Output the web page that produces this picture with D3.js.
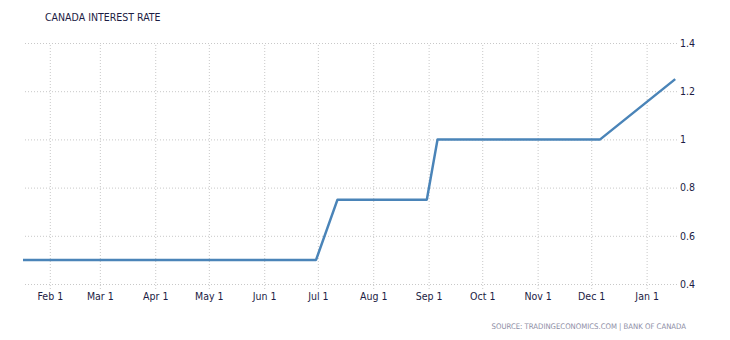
<!DOCTYPE html>
<html>
<head>
<meta charset="utf-8">
<script src="https://cdn.jsdelivr.net/npm/d3@7"></script>
<style>
  body { margin: 0; background: #fff; }
  svg text { font-family: "DejaVu Sans Condensed", "DejaVu Sans", sans-serif; }
</style>
</head>
<body>
<script>
// rate decisions (date, percent)
const dates = ["2017-01-17", "2017-06-30", "2017-07-12", "2017-08-31", "2017-09-06", "2017-12-06", "2018-01-17"];
const rates = [0.5, 0.5, 0.75, 0.75, 1.0, 1.0, 1.25];
const monthTicks = ["2017-02-01", "2017-03-01", "2017-04-01", "2017-05-01", "2017-06-01", "2017-07-01",
  "2017-08-01", "2017-09-01", "2017-10-01", "2017-11-01", "2017-12-01", "2018-01-01"];
const yTicks = [0.4, 0.6, 0.8, 1, 1.2, 1.4];

const width = 730, height = 340;
const parse = d3.utcParse("%Y-%m-%d");
const pts = dates.map((d, i) => ({ date: parse(d), rate: rates[i] }));

const svg = d3.select("body").append("svg").attr("width", width).attr("height", height);

const x = d3.scaleUtc().domain([parse("2017-01-17"), parse("2018-01-18")]).range([23, 677]);
const y = d3.scaleLinear().domain([0.4, 1.4]).range([284, 43]);

svg.append("text")
  .attr("x", 45).attr("y", 21)
  .attr("font-size", "10.5px").attr("fill", "#1c1c44")
  .text("CANADA INTEREST RATE");

// horizontal grid + right labels
const yAxis = svg.append("g")
  .attr("transform", "translate(677,0)")
  .call(d3.axisRight(y).tickValues(yTicks).tickSize(-654).tickPadding(3)
    .tickFormat(d => d3.format("~g")(d)));
yAxis.select(".domain").remove();
yAxis.selectAll("line").attr("stroke", "#c8c8c8").attr("stroke-dasharray", "1,2");
yAxis.selectAll("text").attr("font-size", "10.5px").attr("fill", "#1c1c44");

// vertical grid + month labels
const xAxis = svg.append("g")
  .attr("transform", "translate(0,289)")
  .call(d3.axisBottom(x).tickValues(monthTicks.map(parse)).tickSize(-246).tickPadding(4)
    .tickFormat(d3.utcFormat("%b 1")));
xAxis.select(".domain").remove();
xAxis.selectAll("line").attr("stroke", "#c8c8c8").attr("stroke-dasharray", "1,2");
xAxis.selectAll("text").attr("font-size", "10.5px").attr("fill", "#1c1c44");

svg.append("path")
  .datum(pts)
  .attr("fill", "none")
  .attr("stroke", "#4a84b8")
  .attr("stroke-width", 2.5)
  .attr("stroke-linejoin", "round")
  .attr("d", d3.line().x(d => x(d.date)).y(d => y(d.rate)));

svg.append("text")
  .attr("x", 686).attr("y", 329)
  .attr("text-anchor", "end")
  .attr("font-size", "7.7px").attr("fill", "#8c8ca4")
  .text("SOURCE: TRADINGECONOMICS.COM | BANK OF CANADA");
</script>
</body>
</html>
